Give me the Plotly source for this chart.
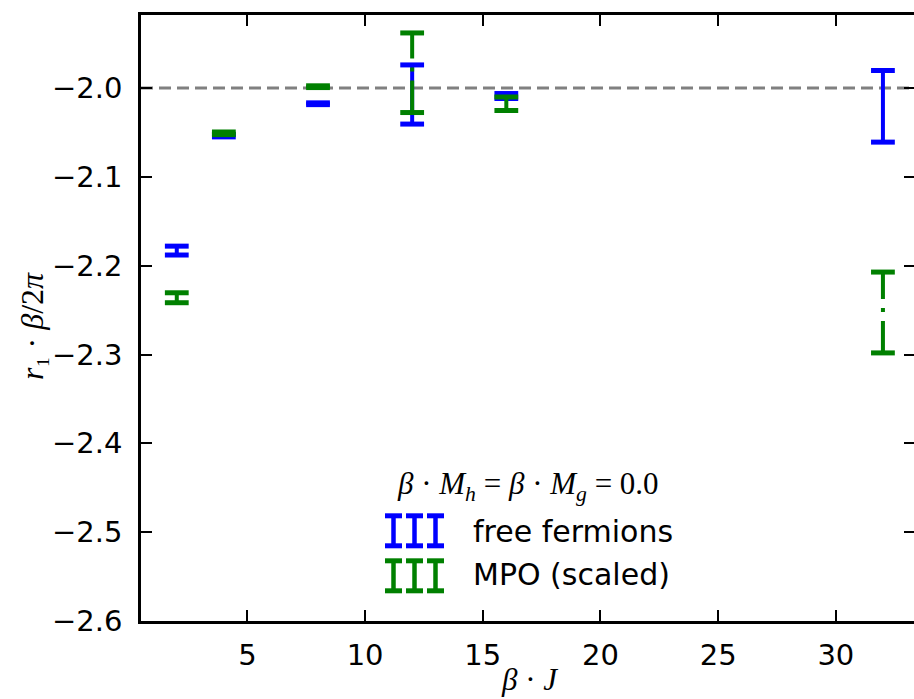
import plotly.graph_objects as go

# ---------------- data ----------------
beta_J = [2, 4, 8, 12, 16, 32]
ff_val = [-2.1830, -2.0535, -2.0177, -2.0073, -2.0090, -2.0206]
ff_err = [0.0050, 0.0015, 0.0010, 0.0333, 0.0028, 0.0403]
mpo_val = [-2.2361, -2.0510, -1.9985, -1.9828, -2.0177, -2.2527]
mpo_err = [0.0056, 0.0015, 0.0010, 0.0448, 0.0076, 0.0455]
ref_value = -2.0
x_ticks = [5, 10, 15, 20, 25, 30]
y_ticks = [-2.6, -2.5, -2.4, -2.3, -2.2, -2.1, -2.0]
series_names = ["free fermions", "MPO (scaled)"]
legend_title = "<i>β</i> · <i>M</i><sub><i>h</i></sub> = <i>β</i> · <i>M</i><sub><i>g</i></sub> = 0.0"

BLUE = "#0000ff"
GREEN = "#008000"
W, H = 914, 699
ML, MR, MT, MB = 141, 0, 15, 78
XR = [0.48, 33.32]
YR = [-2.6, -1.9178]


def errbar_trace(xs, vals, errs, color, dash, name):
    px, py = [], []
    for x, v, e in zip(xs, vals, errs):
        px += [x, x, None]
        py += [v - e, v + e, None]
    return go.Scatter(
        x=px, y=py, mode="lines+markers", name=name, showlegend=False,
        connectgaps=False, hoverinfo="skip",
        line=dict(color=color, width=4, dash=dash),
        marker=dict(symbol="line-ew", size=17, color=color,
                    line=dict(color=color, width=5)),
    )


fig = go.Figure()
fig.add_trace(errbar_trace(beta_J, ff_val, ff_err, BLUE, "solid", series_names[0]))
fig.add_trace(errbar_trace(beta_J, mpo_val, mpo_err, GREEN, "32px,9px,4px,9px", series_names[1]))
# dummy trace for the right-hand mirrored ticks
fig.add_trace(go.Scatter(x=[None], y=[None], yaxis="y2", showlegend=False, hoverinfo="skip"))

fig.add_hline(y=ref_value, line=dict(color="#808080", width=3, dash="12px,6px"), layer="below")

tickfont = dict(family="DejaVu Sans", size=29, color="black")
fig.update_layout(
    width=W, height=H,
    margin=dict(l=ML, r=MR, t=MT, b=MB, pad=0),
    paper_bgcolor="white", plot_bgcolor="white",
    showlegend=False,
    xaxis=dict(range=XR, tickvals=x_ticks, ticktext=[str(t) for t in x_ticks],
               ticks="inside", ticklen=11, tickwidth=2, tickcolor="black",
               showline=True, linecolor="black", linewidth=2.5, mirror="ticks",
               showgrid=False, zeroline=False, tickfont=tickfont, ticklabelstandoff=6),
    yaxis=dict(range=YR, tickvals=y_ticks, tickformat=".1f",
               ticks="inside", ticklen=11, tickwidth=2, tickcolor="black",
               showline=True, linecolor="black", linewidth=2.5,
               showgrid=False, zeroline=False, tickfont=tickfont, ticklabelstandoff=10),
    yaxis2=dict(range=YR, tickvals=y_ticks, overlaying="y", side="right",
                ticks="inside", ticklen=10, tickwidth=2, tickcolor="black",
                showline=False, showgrid=False, zeroline=False, showticklabels=False),
)

pw, ph = W - ML - MR, H - MT - MB


def px2paper(xp, yp):
    return (xp - ML) / pw, (H - MB - yp) / ph


serif = dict(family="Liberation Serif", size=32, color="black")
# axis titles
ax, ay = px2paper(529, 679)
fig.add_annotation(x=ax, y=ay, xref="paper", yref="paper", showarrow=False,
                   text="<i>β</i> · <i>J</i>", font=dict(family="Liberation Serif", size=31, color="black"),
                   xanchor="center", yanchor="middle")
ax, ay = px2paper(32, 326)
fig.add_annotation(x=ax, y=ay, xref="paper", yref="paper", showarrow=False, textangle=-90,
                   text="<i>r</i>₁ · <i>β</i>/2<i>π</i>", font=serif,
                   xanchor="center", yanchor="middle")

# legend
ax, ay = px2paper(528, 486)
fig.add_annotation(x=ax, y=ay, xref="paper", yref="paper", showarrow=False,
                   text=legend_title, font=dict(family="Liberation Serif", size=31, color="black"),
                   xanchor="center", yanchor="middle")
legend_rows = [(531, BLUE, 515.8, 545.8), (574, GREEN, 560.8, 590.8)]
glyph_x = [393.5, 414.5, 435.5]
for name, (ty, col, ytop, ybot) in zip(series_names, legend_rows):
    ax, ay = px2paper(471, ty)
    fig.add_annotation(x=ax, y=ay, xref="paper", yref="paper", showarrow=False,
                       text=name, font=dict(family="DejaVu Sans", size=30, color="black"),
                       xanchor="left", yanchor="middle")
    for gx in glyph_x:
        x0, y0 = px2paper(gx, ytop)
        x1, y1 = px2paper(gx, ybot)
        fig.add_shape(type="line", xref="paper", yref="paper", x0=x0, x1=x0, y0=y0, y1=y1,
                      line=dict(color=col, width=4.5))
        for yy in (ytop, ybot):
            a0, b0 = px2paper(gx - 8.5, yy)
            a1, _ = px2paper(gx + 8.5, yy)
            fig.add_shape(type="line", xref="paper", yref="paper", x0=a0, x1=a1, y0=b0, y1=b0,
                          line=dict(color=col, width=5))

fig.write_html("out.html")
